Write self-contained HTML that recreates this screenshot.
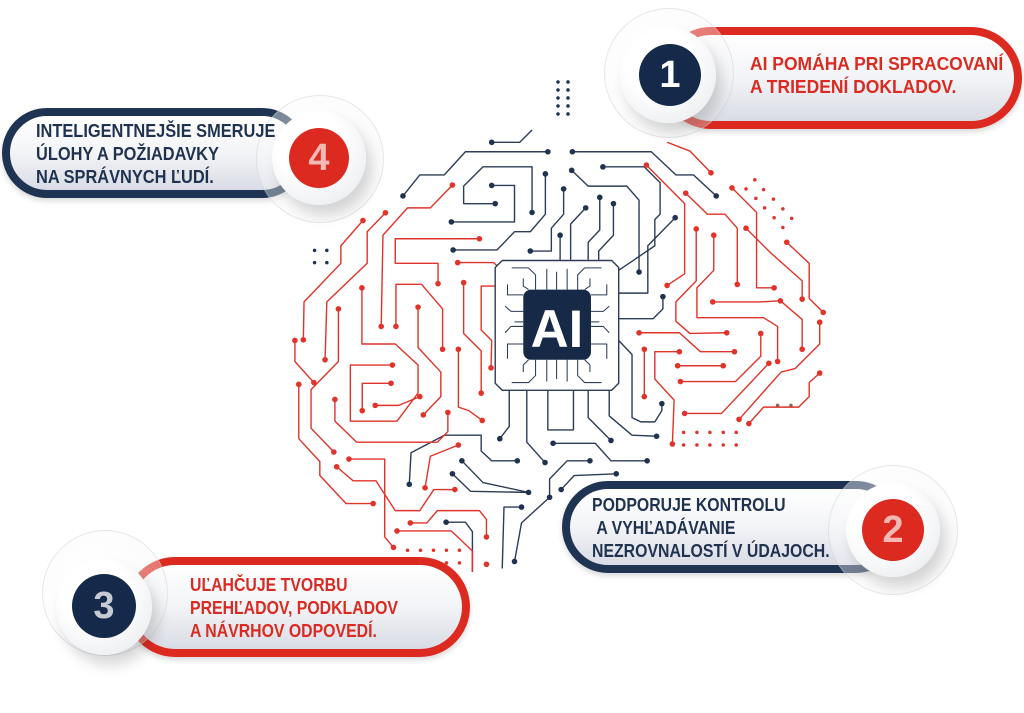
<!DOCTYPE html>
<html><head><meta charset="utf-8"><style>
body{margin:0;width:1024px;height:713px;background:#fff;overflow:hidden;position:relative;font-family:"Liberation Sans",sans-serif}
.pill{position:absolute;box-sizing:border-box;border-radius:60px;background:linear-gradient(#ffffff 0%,#f3f4f7 50%,#d9dce5 100%);box-shadow:0 3px 6px rgba(0,0,0,.15)}
.red{border:8px solid #dd2a20}
.navy{border:8px solid #1f3452}
.txt{position:absolute;font-weight:bold;font-size:18px;line-height:23px;transform-origin:left top;white-space:nowrap}
.halo{position:absolute;border-radius:50%;border:1px solid rgba(200,204,212,.45);background:radial-gradient(circle at 40% 40%,rgba(255,255,255,.5),rgba(236,238,241,.3))}
.disk{position:absolute;border-radius:50%;background:radial-gradient(circle at 40% 35%,#fff 40%,#e4e6ea 100%);box-shadow:6px 10px 14px rgba(0,0,0,.16)}
.num{position:absolute;border-radius:50%;color:#fff;font-size:38px;font-weight:bold;text-align:center}
</style></head><body>
<svg width="1024" height="713" style="position:absolute;left:0;top:0">
<g transform="translate(290,130) scale(0.3508)" fill="none" stroke-width="4" stroke-linejoin="round">
<g stroke="#2d3d57">
<polyline points="575,35 655,35 690,0"/>
<polyline points="735,62 500,62 440,128 370,128 322,188"/>
<polyline points="805,62 1030,62 1100,128 1150,128 1215,188"/>
<polyline points="690,235 690,105 550,105 495,160 495,210 585,210"/>
<polyline points="575,158 640,158 640,262 460,262"/>
<polyline points="728,125 728,240 685,290 640,290 590,342 465,342"/>
<polyline points="780,168 780,240 745,280 745,345 685,345"/>
<polyline points="803,115 850,160 960,160 995,200 995,405"/>
<polyline points="892,105 1010,105 1055,150 1055,240 1040,255 1040,330 937,400"/>
<polyline points="843,222 800,268 800,370"/>
<polyline points="883,192 883,285 850,320 850,370"/>
<polyline points="922,210 922,300 880,345 880,370"/>
<polyline points="770,300 770,370"/>
<polyline points="1098,250 1020,330 1020,465 937,465"/>
<polyline points="1063,475 1063,510 1035,538 937,538"/>
<polyline points="625,742 625,845 598,880"/>
<polyline points="675,742 675,890 727,948"/>
<polyline points="735,742 735,855 808,855 808,742"/>
<polyline points="850,742 850,820 915,885"/>
<polyline points="910,742 910,815 975,870 1045,873"/>
<polyline points="937,600 975,640 975,820 1000,832 1040,832 1060,800 1060,780"/>
<polyline points="750,893 870,893 915,943 1018,943"/>
<polyline points="490,943 550,1005 680,1033"/>
<polyline points="648,943 575,943 545,915 545,870 440,870 345,920 340,1010"/>
<polyline points="463,980 515,1030 680,1033"/>
<polyline points="773,1025 810,985 930,980"/>
<polyline points="855,943 790,943 740,995 740,1047 660,1120 640,1230"/>
<polyline points="660,1075 610,1075 605,1250"/>
<polyline points="445,1118 500,1118 520,1145 520,1260"/>
</g>
<g fill="#1f3350" stroke="none">
<circle cx="575" cy="35" r="8"/><circle cx="735" cy="62" r="8"/><circle cx="322" cy="188" r="8"/><circle cx="805" cy="62" r="8"/><circle cx="1215" cy="188" r="8"/><circle cx="690" cy="235" r="8"/><circle cx="585" cy="210" r="8"/><circle cx="575" cy="158" r="8"/><circle cx="460" cy="262" r="8"/><circle cx="728" cy="125" r="8"/><circle cx="465" cy="342" r="8"/><circle cx="780" cy="168" r="8"/><circle cx="685" cy="345" r="8"/><circle cx="803" cy="115" r="8"/><circle cx="995" cy="405" r="8"/><circle cx="892" cy="105" r="8"/><circle cx="843" cy="222" r="8"/><circle cx="883" cy="192" r="8"/><circle cx="922" cy="210" r="8"/><circle cx="770" cy="300" r="8"/><circle cx="1098" cy="250" r="8"/><circle cx="1063" cy="475" r="8"/><circle cx="598" cy="880" r="8"/><circle cx="727" cy="948" r="8"/><circle cx="915" cy="885" r="8"/><circle cx="1045" cy="873" r="8"/><circle cx="1060" cy="780" r="8"/><circle cx="750" cy="893" r="8"/><circle cx="1018" cy="943" r="8"/><circle cx="490" cy="943" r="8"/><circle cx="680" cy="1033" r="8"/><circle cx="648" cy="943" r="8"/><circle cx="340" cy="1010" r="8"/><circle cx="463" cy="980" r="8"/><circle cx="773" cy="1025" r="8"/><circle cx="930" cy="980" r="8"/><circle cx="855" cy="943" r="8"/><circle cx="740" cy="1047" r="8"/><circle cx="660" cy="1075" r="8"/><circle cx="445" cy="1118" r="8"/><circle cx="640" cy="1230" r="8"/>
<circle cx="70" cy="343" r="5"/><circle cx="105" cy="343" r="5"/><circle cx="70" cy="378" r="5"/><circle cx="105" cy="378" r="5"/>
</g>
<g stroke="#e0332a">
<polyline points="463,157 400,222 335,222 265,300 260,560"/>
<polyline points="272,236 220,290 220,380 105,490 100,655"/>
<polyline points="208,258 145,330 145,380 40,490 38,598"/>
<polyline points="14,600 14,660 68,720"/>
<polyline points="540,310 300,310 300,380 422,380 422,438"/>
<polyline points="302,560 302,440 375,440 435,510 435,625"/>
<polyline points="205,450 205,610 300,610 365,670 365,750 305,830 172,830 172,670 292,670"/>
<polyline points="206,800 206,722 288,722"/>
<polyline points="243,785 310,785 370,760"/>
<polyline points="138,510 138,660 60,740 60,850 125,918"/>
<polyline points="25,725 25,880 85,945 85,985 160,1065 237,1065"/>
<polyline points="128,768 128,830 190,890 420,890 450,860 450,805"/>
<polyline points="365,505 365,620 430,690 430,760 380,812"/>
<polyline points="478,378 580,378 600,395"/>
<polyline points="495,435 495,580 545,630 545,750"/>
<polyline points="480,625 480,790 510,800 548,828"/>
<polyline points="586,445 545,445 545,570 575,600 573,678"/>
<polyline points="168,938 270,938 270,1160 295,1190"/>
<polyline points="133,960 180,1000 245,1000 300,1085 370,1085 410,1025 470,1025"/>
<polyline points="480,898 400,930 385,1020"/>
<polyline points="343,1120 390,1120 420,1085 540,1085 560,1110 560,1160"/>
<polyline points="305,1143 460,1143 520,1200 520,1260"/>
<polyline points="1016,100 1125,210 1125,410 1075,443"/>
<polyline points="1075,35 1140,60 1200,122"/>
<polyline points="1128,180 1190,240 1240,240 1275,280 1275,440"/>
<polyline points="1158,282 1158,430 1100,490 1100,545 1140,580 1245,578"/>
<polyline points="1208,300 1208,400 1160,450 1160,535 1350,535 1390,560 1390,660"/>
<polyline points="1260,165 1330,235 1330,450 1380,450"/>
<polyline points="1300,280 1370,350 1460,430 1460,482"/>
<polyline points="1416,320 1480,380 1480,480 1520,520"/>
<polyline points="1205,490 1340,490 1398,487 1460,540 1460,625"/>
<polyline points="995,578 1110,578 1170,632 1267,632"/>
<polyline points="1010,625 1010,760"/>
<polyline points="1110,632 1040,632 1040,710 1095,770 1090,895"/>
<polyline points="1105,672 1235,672"/>
<polyline points="1113,717 1270,717 1342,645 1342,580"/>
<polyline points="1125,808 1230,808 1365,665"/>
<polyline points="1510,548 1510,610 1440,680 1400,690 1280,825"/>
<polyline points="1510,693 1480,720 1480,760 1450,790 1350,790 1308,837"/>
</g>
<g fill="#e0332a" stroke="none">
<circle cx="463" cy="157" r="8"/><circle cx="260" cy="560" r="8"/><circle cx="272" cy="236" r="8"/><circle cx="100" cy="655" r="8"/><circle cx="208" cy="258" r="8"/><circle cx="38" cy="598" r="8"/><circle cx="14" cy="600" r="8"/><circle cx="68" cy="720" r="8"/><circle cx="540" cy="310" r="8"/><circle cx="422" cy="438" r="8"/><circle cx="302" cy="560" r="8"/><circle cx="435" cy="625" r="8"/><circle cx="205" cy="450" r="8"/><circle cx="292" cy="670" r="8"/><circle cx="206" cy="800" r="8"/><circle cx="288" cy="722" r="8"/><circle cx="243" cy="785" r="8"/><circle cx="370" cy="760" r="8"/><circle cx="138" cy="510" r="8"/><circle cx="125" cy="918" r="8"/><circle cx="25" cy="725" r="8"/><circle cx="237" cy="1065" r="8"/><circle cx="128" cy="768" r="8"/><circle cx="450" cy="805" r="8"/><circle cx="365" cy="505" r="8"/><circle cx="380" cy="812" r="8"/><circle cx="478" cy="378" r="8"/><circle cx="495" cy="435" r="8"/><circle cx="545" cy="750" r="8"/><circle cx="480" cy="625" r="8"/><circle cx="548" cy="828" r="8"/><circle cx="573" cy="678" r="8"/><circle cx="168" cy="938" r="8"/><circle cx="295" cy="1190" r="8"/><circle cx="133" cy="960" r="8"/><circle cx="470" cy="1025" r="8"/><circle cx="480" cy="898" r="8"/><circle cx="385" cy="1020" r="8"/><circle cx="343" cy="1120" r="8"/><circle cx="560" cy="1160" r="8"/><circle cx="305" cy="1143" r="8"/><circle cx="560" cy="1238" r="8"/>
<circle cx="1016" cy="100" r="8"/><circle cx="1075" cy="443" r="8"/><circle cx="1200" cy="122" r="8"/><circle cx="1128" cy="180" r="8"/><circle cx="1275" cy="440" r="8"/><circle cx="1158" cy="282" r="8"/><circle cx="1245" cy="578" r="8"/><circle cx="1208" cy="300" r="8"/><circle cx="1390" cy="660" r="8"/><circle cx="1260" cy="165" r="8"/><circle cx="1380" cy="450" r="8"/><circle cx="1300" cy="280" r="8"/><circle cx="1460" cy="482" r="8"/><circle cx="1416" cy="320" r="8"/><circle cx="1520" cy="520" r="8"/><circle cx="1205" cy="490" r="8"/><circle cx="1398" cy="487" r="8"/><circle cx="1460" cy="625" r="8"/><circle cx="995" cy="578" r="8"/><circle cx="1267" cy="632" r="8"/><circle cx="1010" cy="625" r="8"/><circle cx="1010" cy="760" r="8"/><circle cx="1110" cy="632" r="8"/><circle cx="1090" cy="895" r="8"/><circle cx="1105" cy="672" r="8"/><circle cx="1235" cy="672" r="8"/><circle cx="1113" cy="717" r="8"/><circle cx="1342" cy="580" r="8"/><circle cx="1125" cy="808" r="8"/><circle cx="1365" cy="665" r="8"/><circle cx="1510" cy="548" r="8"/><circle cx="1280" cy="825" r="8"/><circle cx="1510" cy="693" r="8"/><circle cx="1308" cy="837" r="8"/>
<circle cx="1122" cy="862" r="5"/><circle cx="1160" cy="862" r="5"/><circle cx="1197" cy="862" r="5"/><circle cx="1235" cy="862" r="5"/><circle cx="1272" cy="862" r="5"/>
<circle cx="1122" cy="898" r="5"/><circle cx="1160" cy="898" r="5"/><circle cx="1197" cy="898" r="5"/><circle cx="1235" cy="898" r="5"/><circle cx="1272" cy="898" r="5"/>
<circle cx="335" cy="1198" r="5"/><circle cx="372" cy="1198" r="5"/><circle cx="409" cy="1198" r="5"/><circle cx="446" cy="1198" r="5"/><circle cx="483" cy="1198" r="5"/>
<circle cx="335" cy="1234" r="5"/><circle cx="372" cy="1234" r="5"/><circle cx="409" cy="1234" r="5"/><circle cx="446" cy="1234" r="5"/><circle cx="483" cy="1234" r="5"/>
<circle cx="1300" cy="168" r="5"/><circle cx="1325" cy="142" r="5"/><circle cx="1350" cy="170" r="5"/><circle cx="1328" cy="195" r="5"/><circle cx="1378" cy="197" r="5"/><circle cx="1353" cy="222" r="5"/><circle cx="1405" cy="225" r="5"/><circle cx="1380" cy="250" r="5"/><circle cx="1430" cy="252" r="5"/><circle cx="1405" cy="278" r="5"/>
<circle cx="1390" cy="785" r="5" fill="#9b5a4a"/><circle cx="1428" cy="785" r="5" fill="#9b5a4a"/>
</g>
<polygon points="605,372 917,372 937,392 937,722 917,742 605,742 585,722 585,392" fill="#fff" stroke="#2d3d57"/>
<g stroke="#2d3d57" stroke-width="3">
<polyline points="632,393 680,393 700,413 700,455"/><polyline points="665,423 665,445 680,455"/><line x1="732" y1="396" x2="732" y2="455"/><line x1="760" y1="404" x2="760" y2="455"/><line x1="790" y1="396" x2="790" y2="455"/><polyline points="888,393 840,393 820,413 820,455"/><polyline points="855,423 855,445 840,455"/>
<polyline points="620,440 620,470 665,470"/><polyline points="613,502 630,517 665,517"/><polyline points="640,547 665,547"/><polyline points="613,578 630,560 665,560"/><polyline points="620,652 620,610 665,610"/>
<polyline points="903,440 903,470 858,470"/><polyline points="910,502 893,517 858,517"/><polyline points="882,547 858,547"/><polyline points="910,578 893,560 858,560"/><polyline points="903,652 903,610 858,610"/>
<polyline points="632,720 680,720 700,700 700,655"/><polyline points="665,690 665,670 680,655"/><line x1="732" y1="717" x2="732" y2="655"/><line x1="760" y1="710" x2="760" y2="655"/><line x1="790" y1="717" x2="790" y2="655"/><polyline points="888,720 840,720 820,700 820,655"/><polyline points="855,690 855,670 840,655"/>
</g>
<rect x="665" y="455" width="193" height="200" rx="22" fill="#162a47" stroke="none"/>
<text x="761" y="618" text-anchor="middle" font-family="Liberation Sans" font-weight="bold" font-size="150" fill="#fff" stroke="none">AI</text>
</g>
</svg>

<div class="pill red" style="left:660px;top:27px;width:362px;height:102px"></div>
<div class="halo" style="left:604px;top:8px;width:128px;height:128px"></div>
<div class="disk" style="left:620px;top:27px;width:96px;height:96px"></div>
<div class="num" style="left:639px;top:44px;width:62px;height:62px;line-height:62px;background:#15294a">1</div>
<div class="txt" style="left:750px;top:53px;color:#d92b22;transform:scaleX(.97)">AI POMÁHA PRI SPRACOVANÍ<br>A TRIEDENÍ DOKLADOV.</div>

<div class="pill navy" style="left:2px;top:108px;width:305px;height:90px"></div>
<div class="halo" style="left:256px;top:95px;width:126px;height:126px"></div>
<div class="disk" style="left:272px;top:111px;width:94px;height:94px"></div>
<div class="num" style="left:289px;top:128px;width:60px;height:60px;line-height:60px;background:#dc2a20;color:#f2b9b4">4</div>
<div class="txt" style="left:36px;top:120px;color:#1f3350;transform:scaleX(.91)">INTELIGENTNEJŠIE SMERUJE<br>ÚLOHY A POŽIADAVKY<br>NA SPRÁVNYCH ĽUDÍ.</div>

<div class="pill navy" style="left:562px;top:481px;width:340px;height:92px"></div>
<div class="halo" style="left:828px;top:465px;width:128px;height:128px"></div>
<div class="disk" style="left:846px;top:483px;width:94px;height:94px"></div>
<div class="num" style="left:862px;top:499px;width:62px;height:62px;line-height:62px;background:#dc2a20;color:#f2b9b4">2</div>
<div class="txt" style="left:592px;top:494px;color:#1f3350;transform:scaleX(.88)">PODPORUJE KONTROLU<br>&nbsp;A VYHĽADÁVANIE<br>NEZROVNALOSTÍ V ÚDAJOCH.</div>

<div class="pill red" style="left:125px;top:557px;width:345px;height:100px"></div>
<div class="halo" style="left:42px;top:530px;width:124px;height:124px"></div>
<div class="disk" style="left:56px;top:559px;width:96px;height:96px"></div>
<div class="num" style="left:72px;top:574px;width:64px;height:64px;line-height:64px;background:#15294a;color:#c5cad3">3</div>
<div class="txt" style="left:190px;top:574px;color:#d92b22;transform:scaleX(.88)">UĽAHČUJE TVORBU<br>PREHĽADOV, PODKLADOV<br>A NÁVRHOV ODPOVEDÍ.</div>

<div style="position:absolute;left:553px;top:78px;width:20px;height:40px;background:radial-gradient(circle,#1f3350 1.6px,transparent 2px) 0 0/10px 8px"></div>
</body></html>
